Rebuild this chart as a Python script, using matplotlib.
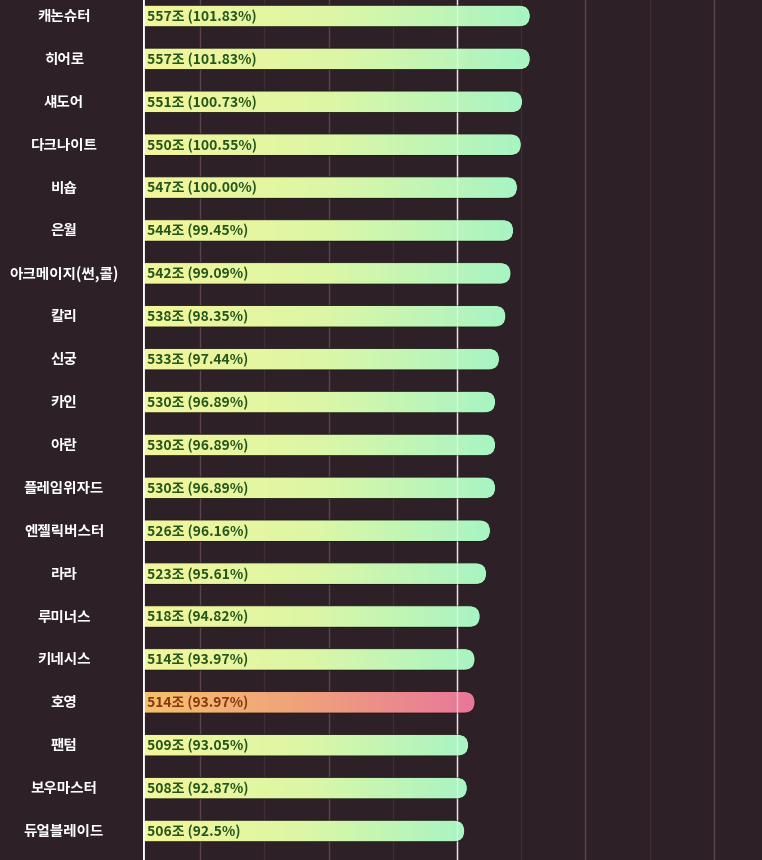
import matplotlib
matplotlib.use("Agg")
import matplotlib.pyplot as plt
import numpy as np
from matplotlib.patches import FancyBboxPatch
from matplotlib.colors import LinearSegmentedColormap

plt.rcParams['font.family'] = ['Noto Sans CJK KR', 'DejaVu Sans']

categories = ["캐논슈터", "히어로", "섀도어", "다크나이트", "비숍", "은월", "아크메이지(썬,콜)",
              "칼리", "신궁", "카인", "아란", "플레임위자드", "엔젤릭버스터", "라라", "루미너스",
              "키네시스", "호영", "팬텀", "보우마스터", "듀얼블레이드"]
values = [557, 557, 551, 550, 547, 544, 542, 538, 533, 530, 530, 530, 526, 523, 518,
          514, 514, 509, 508, 506]
percents = ["101.83%", "101.83%", "100.73%", "100.55%", "100.00%", "99.45%", "99.09%",
            "98.35%", "97.44%", "96.89%", "96.89%", "96.89%", "96.16%", "95.61%", "94.82%",
            "93.97%", "93.97%", "93.05%", "92.87%", "92.5%"]
highlight = "호영"
major_ticks = [300, 400, 600, 700]
minor_ticks = [350, 450, 550, 650]
ref_value = 500

BG = "#2d2127"
W, H = 762, 860
fig = plt.figure(figsize=(W / 100, H / 100), dpi=100, facecolor=BG)
ax = fig.add_axes([143 / W, 0, 1 - 143 / W, 1])
ax.set_facecolor(BG)

x0, x1 = 255.6, 737.4
n = len(categories)
step_px = (831 - 16) / (n - 1)
ytop = -16 / step_px
ybot = (n - 1) + (H - 831) / step_px
ax.set_xlim(x0, x1)
ax.set_ylim(ybot, ytop)

for s in ax.spines.values():
    s.set_visible(False)
ax.set_xticks([])
ax.set_yticks([])

px_per_x = (W - 143) / (x1 - x0)
px_per_y = H / (ybot - ytop)

bar_h = 0.5
rad_px = bar_h * px_per_y / 2
rad_x = rad_px / px_per_x
aspect = (rad_px / px_per_y) / rad_x

cmap_green = LinearSegmentedColormap.from_list("g", ["#f4f59a", "#dcf7a6", "#a8f4c4"])
cmap_pink = LinearSegmentedColormap.from_list("p", ["#f5c26a", "#efa07c", "#e8779b"])
grad = np.linspace(0, 1, 256).reshape(1, -1)

for t in major_ticks:
    ax.axvline(t, color="#5c4352", lw=1.0, zorder=1)
for t in minor_ticks:
    ax.axvline(t, color="#3f2e38", lw=0.9, zorder=1)
ax.axvline(ref_value, color="#cdb6c2", lw=1.0, zorder=1)

for i, (cat, v, p) in enumerate(zip(categories, values, percents)):
    hl = cat == highlight
    left = x0 - 30
    patch = FancyBboxPatch((left, i - bar_h / 2), v - left, bar_h,
                           boxstyle=f"round,pad=0,rounding_size={rad_x}",
                           mutation_aspect=aspect,
                           facecolor="none",
                           edgecolor="#1c1a14", linewidth=0.6, zorder=3)
    ax.add_patch(patch)
    im = ax.imshow(grad, extent=[x0, v, i + bar_h / 2, i - bar_h / 2],
                   cmap=cmap_pink if hl else cmap_green, aspect="auto",
                   interpolation="bicubic", zorder=2)
    im.set_clip_path(patch)
    ax.text(x0 + 4 / px_per_x, i + 0.02, f"{v}조 ({p})", ha="left", va="center",
            fontsize=10, fontweight="bold",
            color="#8a3412" if hl else "#24561c", zorder=5)
    fig.text(64 / W, 1 - (16 + i * step_px) / H, cat, ha="center", va="center",
             fontsize=10.5, fontweight="bold", color="white")

ax.set_xlim(x0, x1)
ax.set_ylim(ybot, ytop)

ax.axvline(ref_value, color="white", lw=1.0, alpha=0.55, zorder=4)
ax.axvline(x0, color="white", lw=2.0, zorder=6)

fig.savefig("out.png", dpi=100, facecolor=BG)
